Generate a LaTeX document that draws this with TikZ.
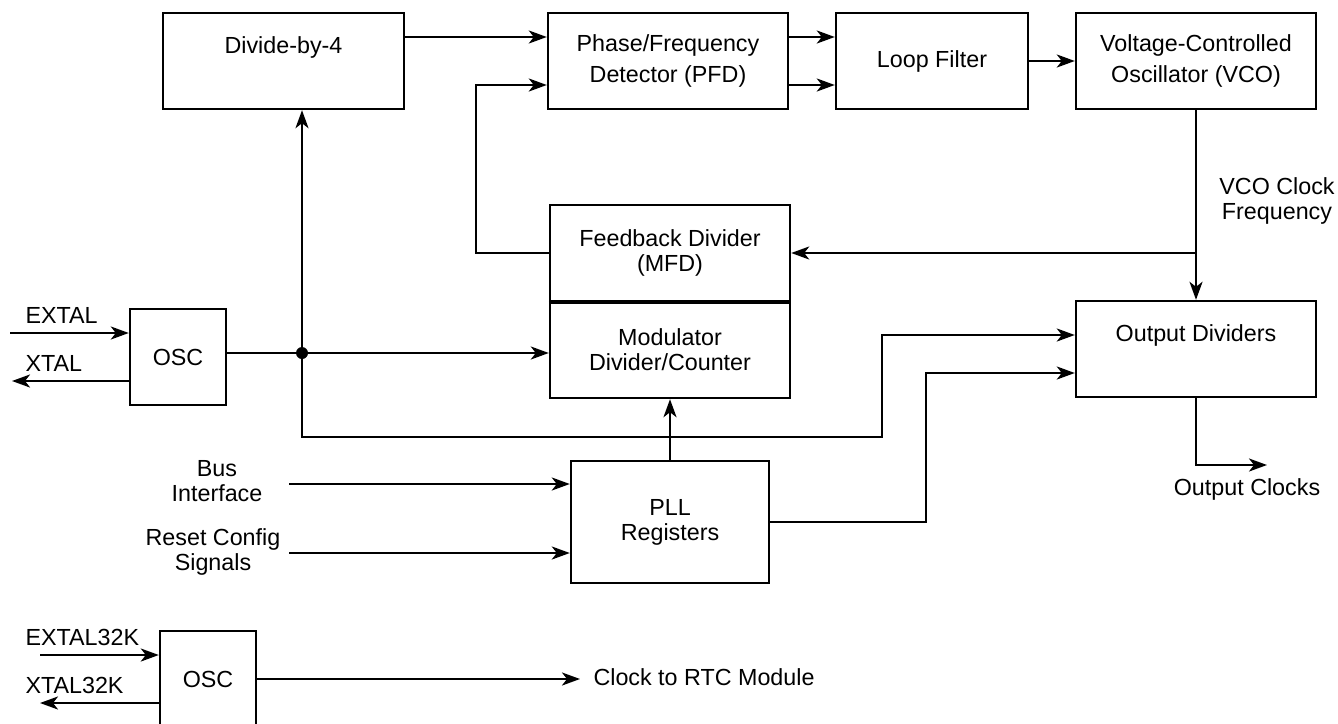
\documentclass[tikz,border=0pt]{standalone}
\usepackage{fontspec}
\setmainfont{Liberation Sans}
\usetikzlibrary{arrows.meta,calc}
\begin{document}
\begin{tikzpicture}[x=1pt,y=-1pt,
  every node/.style={font=\fontsize{23.3}{25}\selectfont},
  blk/.style n args={2}{draw, line width=2.4pt, minimum width=#1pt, minimum height=#2pt, inner sep=0pt, align=center},
  wire/.style={line width=2.4pt},
  arr/.style={line width=2.4pt, -{Stealth[length=18pt,width=13pt,inset=5pt]}}]
\clip (0,0) rectangle (1338,723);
% blocks
\node[blk={241}{96}, label={[yshift=14pt]center:Divide-by-4}] (div4) at (283.5,61) {};
\node[blk={240}{96}] (pfd) at (668,61) {Phase/Frequency\\[6pt]Detector (PFD)};
\node[blk={192}{96}] (loop) at (932,61) {Loop Filter};
\node[blk={240}{96}] (vco) at (1196,61) {Voltage-Controlled\\[6pt]Oscillator (VCO)};
\node[blk={240}{96}] (fb) at (670,253) {Feedback Divider\\(MFD)};
\node[blk={240}{97}] (mod) at (670,349.5) {Modulator\\Divider/Counter};
\draw[line width=3.2pt] (fb.south west) -- (fb.south east);
\node[blk={240}{96}, label={[yshift=14pt]center:Output Dividers}] (outdiv) at (1196,349) {};
\node[blk={96}{96}] (osc) at (178,357) {OSC};
\node[blk={198}{122}] (pll) at (670,522) {PLL\\Registers};
\node[blk={96}{96}] (osc2) at (208,679) {OSC};
% labels
\node[anchor=west] (extal) at (22,315) {EXTAL};
\node[anchor=west] (xtal) at (22,363) {XTAL};
\node[align=center] (bus) at (217,481) {Bus\\Interface};
\node[align=center] (reset) at (213,552) {Reset Config\\Signals};
\node[align=center] (vcoclk) at (1277,201) {VCO Clock\\Frequency};
\node (outclk) at (1247,489) {Output Clocks};
\node[anchor=west] (extal32) at (22,637) {EXTAL32K};
\node[anchor=west] (xtal32) at (22,685) {XTAL32K};
\node[anchor=west] (rtc) at (590,677) {Clock to RTC Module};
% coordinates
\coordinate (extalin) at (10,333);
\coordinate (xtalout) at (12,381);
\coordinate (j) at (302,353);
\coordinate (b1) at (882,437);
\coordinate (fbx) at (476,253);
\coordinate (busin) at (289,484);
\coordinate (resetin) at (289,553);
\coordinate (oc) at (1267,465);
\coordinate (e32) at (40,655);
\coordinate (x32) at (40,703);
\coordinate (rtcend) at (580,679);
\coordinate (vj) at (vco.south |- fb.east);
\coordinate (b2) at (926,522);
% connectors
\draw[arr] (extalin) -- (extalin -| osc.west);
\draw[arr] (xtalout -| osc.west) -- (xtalout);
\draw[wire] (osc.east |- j) -- (j);
\draw[arr] (j) -- (mod.west |- j);
\draw[arr] (j) -- (j |- div4.south);
\fill (j) circle (6pt);
\draw[arr] (j) |- (b1) |- ([yshift=14pt]outdiv.west);
\draw[arr] ([yshift=24pt]div4.east) -- ([yshift=24pt]div4.east -| pfd.west);
\draw[arr] ([yshift=24pt]pfd.east) -- ([yshift=24pt]loop.west);
\draw[arr] ([yshift=-24pt]pfd.east) -- ([yshift=-24pt]loop.west);
\draw[arr] (loop) -- (vco);
\draw[wire] (vco.south) -- (vj);
\draw[arr] (vj) -- (fb.east);
\draw[arr] (vj) -- (outdiv.north);
\draw[arr] (fb.west) -- (fbx) |- ([yshift=-24pt]pfd.west);
\draw[arr] (pll.north) -- (pll.north |- mod.south);
\draw[arr] (busin) -- (busin -| pll.west);
\draw[arr] (resetin) -- (resetin -| pll.west);
\draw[arr] (pll.east) -- (b2) |- ([yshift=-24pt]outdiv.west);
\draw[arr] (outdiv.south) |- (oc);
\draw[arr] (e32) -- (e32 -| osc2.west);
\draw[arr] (x32 -| osc2.west) -- (x32);
\draw[arr] (osc2.east) -- (rtcend);
\end{tikzpicture}
\end{document}
